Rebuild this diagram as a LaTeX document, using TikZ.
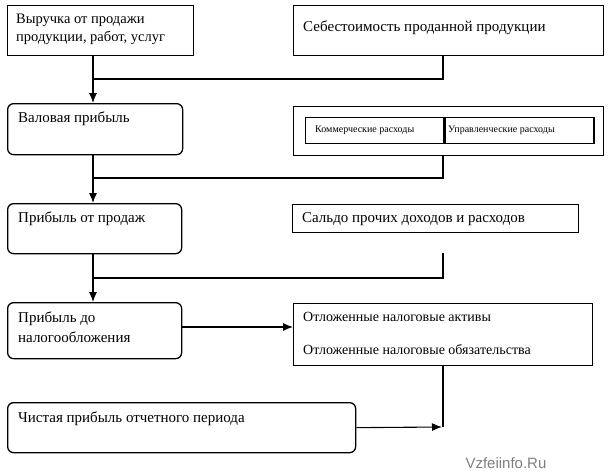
\documentclass[tikz,border=0pt]{standalone}
\usepackage{fontspec}
\setmainfont{Liberation Serif}
\newfontfamily\wmfont{Liberation Sans}
\usetikzlibrary{arrows.meta,positioning,calc}

\begin{document}
\begin{tikzpicture}[x=1pt, y=-1pt,
        sqbox/.style={rectangle, draw, line width=1.3pt, anchor=north west, inner sep=0pt},
        rndbox/.style={sqbox, rounded corners=6pt},
        txt/.style={anchor=north west, align=left, inner sep=0pt, font=\fontsize{15}{18}\selectfont},
        tinytxt/.style={txt, font=\fontsize{10}{11}\selectfont},
        arrow/.style={-{Latex[length=10pt,width=8pt]}, line width=1.1pt},
        line/.style={line width=1.1pt}
    ]
    \useasboundingbox (0,0) rectangle (610,474);

    % Left column
    \node[sqbox, minimum width=186pt, minimum height=50pt] (rev) at (7,5) {};
    \node[txt, font=\fontsize{14.5}{18}\selectfont] (rev-t) at (16,14) {Выручка от продажи\\продукции, работ, услуг};
    \node[rndbox, minimum width=175pt, minimum height=51pt] (gross) at (7,103) {};
    \node[txt] (gross-t) at (18,112) {Валовая прибыль};
    \node[rndbox, minimum width=174pt, minimum height=50pt] (sales) at (7,203) {};
    \node[txt] (sales-t) at (18,212) {Прибыль от продаж};
    \node[rndbox, minimum width=174pt, minimum height=56pt] (pretax) at (7,302) {};
    \node[txt, font=\fontsize{15}{20}\selectfont] (pretax-t) at (18,312) {Прибыль до\\налогообложения};
    \node[rndbox, minimum width=348pt, minimum height=50pt] (net) at (7,402) {};
    \node[txt] (net-t) at (18,412) {Чистая прибыль отчетного периода};

    % Right column
    \node[sqbox, minimum width=310pt, minimum height=50pt] (cost) at (293,5) {};
    \node[txt] (cost-t) at (303,21) {Себестоимость проданной продукции};
    \node[sqbox, minimum width=310pt, minimum height=49pt] (exp) at (293,106) {};
    \node[sqbox, minimum width=138pt, minimum height=26pt] (comm) at (305,117) {};
    \node[sqbox, minimum width=149pt, minimum height=26pt] (adm) at (comm.north east) {};
    \node[tinytxt, anchor=west] (comm-t) at (315,130) {Коммерческие расходы};
    \node[tinytxt, anchor=west] (adm-t) at (448,130) {Управленческие расходы};
    \node[sqbox, minimum width=286pt, minimum height=28pt] (other) at (292,204) {};
    \node[txt] (other-t) at (302,212) {Сальдо прочих доходов и расходов};
    \node[sqbox, minimum width=299pt, minimum height=62pt] (defer) at (293,303) {};
    \node[txt, font=\fontsize{14}{16}\selectfont] (asset-t) at (303,312) {Отложенные налоговые активы};
    \node[txt, font=\fontsize{14}{16}\selectfont] (liab-t) at (303,344) {Отложенные налоговые обязательства};

    \node[font=\wmfont\fontsize{15}{15}\selectfont, text=black!50, anchor=west] (wm) at (462,463) {Vzfeiinfo.Ru};

    % Junctions
    \coordinate (j1) at (93,79);
    \coordinate (j2) at (93,178);
    \coordinate (j3) at (93,278);
    \coordinate (s1) at (443,253);
    \coordinate (c4) at (443,427);
    \coordinate (c5) at (442,427);

    % Connectors
    \draw[arrow] (rev.south -| j1) -- (gross.north -| j1);
    \draw[line] (cost.south -| c4) |- (j1);
    \draw[arrow] (gross.south -| j2) -- (sales.north -| j2);
    \draw[line] (exp.south -| c4) |- (j2);
    \draw[arrow] (sales.south -| j3) -- (pretax.north -| j3);
    \draw[line] (s1) |- (j3);
    \draw[arrow] (pretax.east |- 0,327) -- (defer.west |- 0,327);
    \draw[line] (defer.south -| c4) -- (c4);
    \draw[arrow] (net.east) -- (c5);

\end{tikzpicture}
\end{document}
